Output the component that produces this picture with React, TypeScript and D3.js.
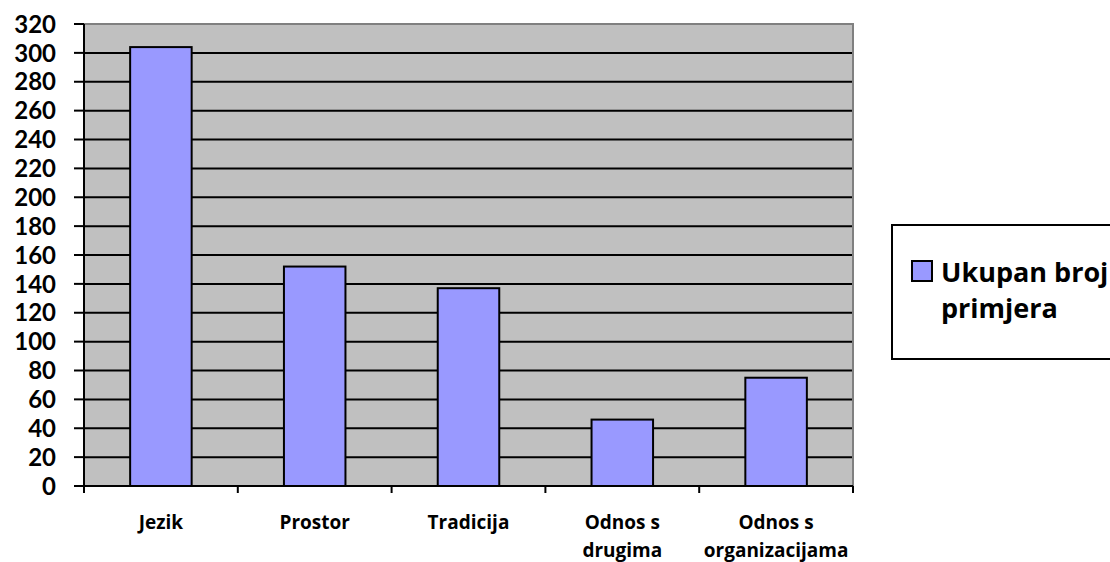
import React from "react";
import * as d3 from "d3";

const categories = [
  ["Jezik"],
  ["Prostor"],
  ["Tradicija"],
  ["Odnos s", "drugima"],
  ["Odnos s", "organizacijama"],
];
const values = [304, 152, 137, 46, 75];
const yTicks = d3.range(0, 321, 20);
const seriesName = ["Ukupan broj", "primjera"];

const W = 1110;
const H = 562;
const plot = { left: 84, right: 853, top: 24, bottom: 486 };
const font = "'Open Sans', 'Noto Sans', sans-serif";
// tighter line box for the crowded value axis
const tickFont = "Lato, 'Open Sans', sans-serif";

const App: React.FC = () => {
  const x = d3
    .scaleBand<number>()
    .domain(d3.range(categories.length))
    .range([plot.left, plot.right])
    .paddingInner(0.6)
    .paddingOuter(0.3);
  const step = (plot.right - plot.left) / categories.length;
  const y = d3.scaleLinear().domain([0, 320]).range([plot.bottom, plot.top]);

  return (
    <>
      <style>{"body{margin:0}"}</style>
      <svg width={W} height={H} style={{ display: "block", background: "#fff" }}>
        {/* plot area */}
        <rect
          x={plot.left}
          y={plot.top}
          width={plot.right - plot.left}
          height={plot.bottom - plot.top}
          fill="#C0C0C0"
        />
        <path
          d={`M${plot.left},${plot.top}H${plot.right}V${plot.bottom}`}
          fill="none"
          stroke="#808080"
          strokeWidth={2}
        />
        {/* gridlines */}
        {yTicks.slice(1, -1).map((t) => (
          <line
            key={t}
            x1={plot.left}
            x2={plot.right - 1}
            y1={y(t)}
            y2={y(t)}
            stroke="#000"
            strokeWidth={2}
          />
        ))}
        {/* bars */}
        {values.map((v, i) => (
          <rect
            key={i}
            x={x(i)}
            y={y(v)}
            width={x.bandwidth()}
            height={y(0) - y(v)}
            fill="#9999FF"
            stroke="#000"
            strokeWidth={2}
          />
        ))}
        {/* y axis */}
        <line x1={plot.left} x2={plot.left} y1={plot.top} y2={plot.bottom} stroke="#000" strokeWidth={2} />
        {yTicks.map((t) => (
          <g key={t}>
            <line x1={plot.left - 10} x2={plot.left} y1={y(t)} y2={y(t)} stroke="#000" strokeWidth={2} />
            <text
              x={56}
              y={y(t)}
              dy="0.36em"
              textAnchor="end"
              fontFamily={tickFont}
              fontWeight="bold"
              fontSize={24}
              fill="#000"
            >
              {t}
            </text>
          </g>
        ))}
        {/* x axis */}
        <line x1={plot.left} x2={plot.right} y1={plot.bottom} y2={plot.bottom} stroke="#000" strokeWidth={2} />
        {d3.range(categories.length + 1).map((i) => (
          <line
            key={i}
            x1={plot.left + i * step}
            x2={plot.left + i * step}
            y1={plot.bottom}
            y2={plot.bottom + 7}
            stroke="#000"
            strokeWidth={2}
          />
        ))}
        {categories.map((lines, i) => (
          <text
            key={i}
            x={(x(i) as number) + x.bandwidth() / 2}
            y={529}
            textAnchor="middle"
            fontFamily={font}
            fontWeight="bold"
            fontSize={19}
            fill="#000"
          >
            {lines.map((l, j) => (
              <tspan key={j} x={(x(i) as number) + x.bandwidth() / 2} dy={j === 0 ? 0 : 28}>
                {l}
              </tspan>
            ))}
          </text>
        ))}
        {/* legend */}
        <rect x={892} y={225} width={230} height={134} fill="#fff" stroke="#000" strokeWidth={2} />
        <rect x={912} y={261} width={20} height={20} fill="#9999FF" stroke="#000" strokeWidth={2} />
        <text fontFamily={font} fontWeight="bold" fontSize={27} fill="#000">
          <tspan x={941} y={282}>
            {seriesName[0]}
          </tspan>
          <tspan x={941} y={318}>
            {seriesName[1]}
          </tspan>
        </text>
      </svg>
    </>
  );
};

export default App;
